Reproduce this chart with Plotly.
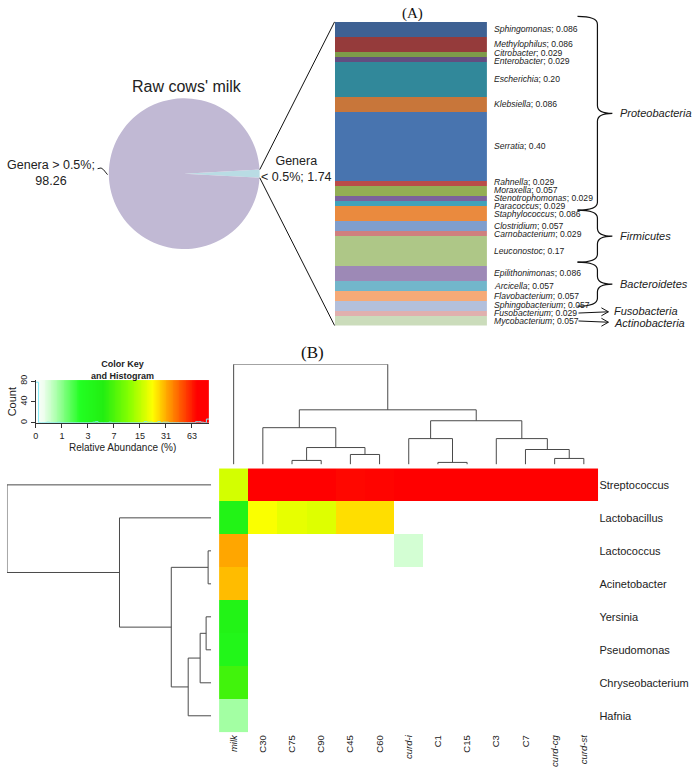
import numpy as np
import plotly.graph_objects as go

W, H = 696, 771

# ---------------- Panel A data ----------------
pie_labels = ["Genera < 0.5%", "Genera > 0.5%"]
pie_values = [1.74, 98.26]
pie_title = "Raw cows' milk"

genera = ["Sphingomonas", "Methylophilus", "Citrobacter", "Enterobacter", "Escherichia",
          "Klebsiella", "Serratia", "Rahnella", "Moraxella", "Stenotrophomonas", "Paracoccus",
          "Staphylococcus", "Clostridium", "Carnobacterium", "Leuconostoc",
          "Epilithonimonas", "Arcicella", "Flavobacterium", "Sphingobacterium",
          "Fusobacterium", "Mycobacterium"]
genus_values = [0.086, 0.086, 0.029, 0.029, 0.20, 0.086, 0.40, 0.029, 0.057, 0.029, 0.029,
                0.086, 0.057, 0.029, 0.17,
                0.086, 0.057, 0.057, 0.057,
                0.029, 0.057]
genus_phylum = (["Proteobacteria"] * 11 + ["Firmicutes"] * 4 + ["Bacteroidetes"] * 4
                + ["Fusobacteria", "Actinobacteria"])

# ---------------- Panel B data ----------------
samples = ["milk", "C30", "C75", "C90", "C45", "C60", "curd-i", "C1", "C15", "C3", "C7",
           "curd-cg", "curd-st"]
italic_samples = ["milk", "curd-i", "curd-cg", "curd-st"]
taxa = ["Streptococcus", "Lactobacillus", "Lactococcus", "Acinetobacter", "Yersinia",
        "Pseudomonas", "Chryseobacterium", "Hafnia"]
abundance = [
    [17, 78, 80, 81, 70, 71, 96, 97, 97, 97, 97, 97, 97],
    [4, 21, 19, 18, 25, 25, 0, 0, 0, 0, 0, 0, 0],
    [32, 0, 0, 0, 0, 0, 0.41, 0, 0, 0, 0, 0, 0],
    [29, 0, 0, 0, 0, 0, 0, 0, 0, 0, 0, 0, 0],
    [4, 0, 0, 0, 0, 0, 0, 0, 0, 0, 0, 0, 0],
    [3.6, 0, 0, 0, 0, 0, 0, 0, 0, 0, 0, 0, 0],
    [6.5, 0, 0, 0, 0, 0, 0, 0, 0, 0, 0, 0, 0],
    [0.8, 0, 0, 0, 0, 0, 0, 0, 0, 0, 0, 0, 0],
]
key_ticks = [0, 1, 3, 7, 15, 31, 63]
count_ticks = [0, 40, 80]
key_max_abundance = 100

# dendrograms: (left, right, merge height)
col_tree = ("milk",
            (("C30", (("C75", "C90", 4), ("C45", "C60", 10), 17), 37),
             (("curd-i", ("C1", "C15", 2), 26),
              ("C3", ("C7", ("curd-cg", "curd-st", 6), 15), 26), 44), 55), 101)
row_tree = ("Streptococcus",
            ("Lactobacillus",
             (("Lactococcus", "Acinetobacter", 3),
              ((("Yersinia", "Pseudomonas", 5), "Chryseobacterium", 11), "Hafnia", 23), 40), 92), 205)

# ---------------- styles ----------------
pie_colors = ["#b9dce4", "#c1b9d4"]
genus_colors = ["#3e6193", "#953b3b", "#7e9b49", "#634d80", "#31889a", "#c8763a", "#4874af",
                "#b94c48", "#93ae54", "#7b629c", "#41a2ba", "#ea8a3e", "#7f9ecd", "#cf807e",
                "#aec787", "#9d89b6", "#72b6cb", "#f6aa77", "#b3c0dc", "#e0b0ae", "#cbdcbb"]
SANS = "Liberation Sans, Arial, sans-serif"
SERIF = "Liberation Serif, Times New Roman, serif"
TXT = "#222222"
DCOL = "#4a4a4a"

# geometry (pixels)
PIE_CX, PIE_CY, PIE_R = 182, 170, 76
BAR_L, BAR_R, BAR_T, BAR_B = 333, 486, 17, 323
HM_L, HM_R, HM_T, HM_B = 217, 598, 467, 733
CD_T, CD_B = 362, 463
RD_L, RD_R = 4, 209
KEY_L, KEY_R, KEY_T, KEY_B = 33, 207, 378, 421


def PX(x):
    return x / W


def PY(y):
    return 1 - y / H


def dx(a, b):
    return [a / W, b / W]


def dy(top, bottom):
    return [1 - bottom / H, 1 - top / H]


def note(x, y, text, size, xanchor="center", family=SANS, color=TXT, **kw):
    return dict(x=PX(x), y=PY(y), xref="paper", yref="paper", text=text, showarrow=False,
                xanchor=xanchor, yanchor="middle", font=dict(family=family, size=size, color=color),
                **kw)


fig = go.Figure()

# ---------------- pie ----------------
small_frac = pie_values[0] / sum(pie_values)
rot = 90 - small_frac * 360 / 2
fig.add_trace(go.Pie(values=pie_values, labels=pie_labels, sort=False, direction="clockwise",
                     rotation=rot, textinfo="none", marker=dict(colors=pie_colors, line=dict(width=0)),
                     domain=dict(x=dx(PIE_CX - PIE_R, PIE_CX + PIE_R), y=dy(PIE_CY - PIE_R, PIE_CY + PIE_R)),
                     showlegend=False, hoverinfo="label+value"))

# ---------------- stacked bar ----------------
total = sum(genus_values)
for g, v, c in zip(genera, genus_values, genus_colors):
    fig.add_trace(go.Bar(x=[0], y=[v], name=g, marker=dict(color=c, line=dict(width=0)),
                         width=1, showlegend=False, xaxis="x", yaxis="y"))

px_per_unit = (BAR_B - BAR_T) / total
centers = []
acc = 0
for v in genus_values:
    centers.append(BAR_T + (acc + v / 2) * px_per_unit)
    acc += v


def spread(cs, gap):
    groups = [[c] for c in cs]
    changed = True
    while changed:
        changed = False
        new = [groups[0]]
        for gr in groups[1:]:
            prev = new[-1]
            ptop = np.mean(prev) - (len(prev) - 1) * gap / 2
            pbot = ptop + (len(prev) - 1) * gap
            gtop = np.mean(gr) - (len(gr) - 1) * gap / 2
            if gtop < pbot + gap - 1e-9:
                new[-1] = prev + gr
                changed = True
            else:
                new.append(gr)
        groups = new
    out = []
    for gr in groups:
        top = np.mean(gr) - (len(gr) - 1) * gap / 2
        out += [top + i * gap for i in range(len(gr))]
    return out


label_y = spread(centers, 8.0)


def fmt(v):
    return f"{v:.2f}" if v >= 0.1 else f"{v:.3f}"


annotations = []
for g, v, ly in zip(genera, genus_values, label_y):
    annotations.append(note(BAR_R + 5, ly, f"<i>{g}</i>; {fmt(v)}", 8.6, xanchor="left"))

shapes = []
# lines pie -> bar
a0 = np.radians(rot)
a1 = np.radians(rot + small_frac * 360)
for ang, by in ((a0, BAR_T), (a1, BAR_B)):
    sx = PIE_CX + PIE_R * np.sin(ang)
    sy = PIE_CY - PIE_R * np.cos(ang)
    shapes.append(dict(type="line", xref="paper", yref="paper", x0=PX(sx), y0=PY(sy),
                       x1=PX(BAR_L), y1=PY(by), line=dict(color="#111", width=1)))


def path_px(cmds):
    s = ""
    for c in cmds:
        if isinstance(c, str):
            s += c + " "
        else:
            s += f"{PX(c[0]):.5f},{PY(c[1]):.5f} "
    return s.strip()


# phylum groups
phyla = []
for p in genus_phylum:
    if p not in phyla:
        phyla.append(p)
groups = {p: [i for i, q in enumerate(genus_phylum) if q == p] for p in phyla}
multi = [p for p in phyla if len(groups[p]) > 1]
single = [p for p in phyla if len(groups[p]) == 1]
SPX, DEPTH, TIP = 597, 20, 15
bounds = []
for k, p in enumerate(multi):
    idx = groups[p]
    top = label_y[idx[0]] - 13 if k == 0 else bounds[-1][1]
    if k < len(multi) - 1:
        nxt = groups[multi[k + 1]][0]
        bot = (label_y[idx[-1]] + label_y[nxt]) / 2
    else:
        bot = label_y[idx[-1]] + 1
    bounds.append((top, bot))
    ym = (top + bot) / 2
    cmds = ["M", (SPX - DEPTH, top), "Q", (SPX, top), (SPX, top + 8), "L", (SPX, ym - 8),
            "Q", (SPX, ym), (SPX + TIP, ym), "Q", (SPX, ym), (SPX, ym + 8), "L", (SPX, bot - 8),
            "Q", (SPX, bot), (SPX - DEPTH, bot)]
    shapes.append(dict(type="path", xref="paper", yref="paper", path=path_px(cmds),
                       line=dict(color="#111", width=1.2)))
    annotations.append(note(SPX + TIP + 6, ym, f"<i>{p}</i>", 11, xanchor="left"))

single_y = spread([label_y[groups[p][0]] for p in single], 13)
for p, py in zip(single, single_y):
    gy = label_y[groups[p][0]]
    x0, x1 = 578, 608
    ey = (gy + py) / 2
    shapes.append(dict(type="path", xref="paper", yref="paper",
                       path=path_px(["M", (x0, gy), "L", (x1, ey),
                                     "M", (x1 - 7, ey - 4), "L", (x1, ey), "L", (x1 - 7, ey + 4)]),
                       line=dict(color="#111", width=1)))
    annotations.append(note(x1 + 4, py, f"<i>{p}</i>", 11, xanchor="left"))

# pie texts
annotations.append(note(185, 82, pie_title, 16))
big_lab = pie_labels[1].replace("<", "&lt;").replace(">", "&gt;")
small_lab = pie_labels[0].replace("<", "&lt;").replace(">", "&gt;")
annotations.append(note(48, 169, f"{big_lab};<br>{pie_values[1]:.2f}", 12.5, align="center"))
sl = small_lab.split(" ", 1)
annotations.append(note(295, 165, f"{sl[0]}<br>{sl[1]}; {pie_values[0]:.2f}", 12.5, align="center"))
shapes.append(dict(type="path", xref="paper", yref="paper",
                   path=path_px(["M", (95, 165), "Q", (99, 163), (101, 166), "L", (105, 171)]),
                   line=dict(color="#222", width=1)))

annotations.append(note(411, 9, "(A)", 15, family=SERIF, color="#111"))
annotations.append(note(311, 350, "(B)", 17, family=SERIF, color="#111"))

# ---------------- heatmap ----------------
zmax = np.log2(key_max_abundance + 1)
Z = np.log2(np.array(abundance, dtype=float) + 1)
cs_z = [0, 0.3, 0.8, 1.7, 2.6, 3.6, 4.5, 5.05, 5.6, 6.2, zmax]
cs_c = ["#ffffff", "#eefeee", "#aaffaa", "#22ff22", "#22ee11", "#88ff00", "#ffff00",
        "#ffa500", "#ff5500", "#ff0000", "#ff0000"]
colorscale = [[z / zmax, c] for z, c in zip(cs_z, cs_c)]

fig.add_trace(go.Heatmap(z=Z, x=list(range(len(samples))), y=list(range(len(taxa))),
                         colorscale=colorscale, zmin=0, zmax=zmax, showscale=False,
                         xaxis="x2", yaxis="y2", xgap=0, ygap=0))


def dendro(tree, order):
    ps, hs = [], []

    def rec(node):
        if isinstance(node, str):
            return order.index(node), 0.0
        l, r, h = node
        pl, hl = rec(l)
        pr, hr = rec(r)
        ps.extend([pl, pl, pr, pr, None])
        hs.extend([hl, h, h, hr, None])
        return (pl + pr) / 2, h

    rec(tree)
    return ps, hs


cp, ch = dendro(col_tree, samples)
fig.add_trace(go.Scatter(x=cp, y=ch, mode="lines", line=dict(color=DCOL, width=1),
                         xaxis="x3", yaxis="y3", showlegend=False, hoverinfo="skip",
                         cliponaxis=False))
rp, rh = dendro(row_tree, taxa)
fig.add_trace(go.Scatter(x=rh, y=rp, mode="lines", line=dict(color=DCOL, width=1),
                         xaxis="x4", yaxis="y4", showlegend=False, hoverinfo="skip",
                         cliponaxis=False))

# ---------------- color key ----------------
edges = np.linspace(0, zmax, 65)
counts, _ = np.histogram(Z.flatten(), bins=edges)
ymax = counts.max() / 0.95
grad_edges = np.linspace(0, zmax, 201)
grad_mid = (grad_edges[:-1] + grad_edges[1:]) / 2
fig.add_trace(go.Heatmap(z=[grad_mid], x=grad_edges, y=[0, ymax], colorscale=colorscale,
                         zmin=0, zmax=zmax, showscale=False, xaxis="x5", yaxis="y5",
                         hoverinfo="skip"))
fig.add_trace(go.Scatter(x=list(edges), y=list(counts) + [counts[-1]], mode="lines",
                         line=dict(color="#7fe9f5", width=1, shape="hv"), xaxis="x5", yaxis="y5",
                         showlegend=False, hoverinfo="skip", cliponaxis=False))

annotations.append(note((KEY_L + KEY_R) / 2, 368, "<b>Color Key</b><br><b>and Histogram</b>", 9))
annotations.append(note((KEY_L + KEY_R) / 2, 446, "Relative Abundance (%)", 10))
annotations.append(note(9, (KEY_T + KEY_B) / 2, "Count", 11, textangle=-90))

hidden = dict(visible=False, showgrid=False, zeroline=False, fixedrange=True)

fig.update_layout(
    width=W, height=H, margin=dict(l=0, r=0, t=0, b=0),
    paper_bgcolor="white", plot_bgcolor="white",
    barmode="stack", bargap=0, showlegend=False,
    xaxis=dict(domain=dx(BAR_L, BAR_R), range=[-0.5, 0.5], anchor="y", **hidden),
    yaxis=dict(domain=dy(BAR_T, BAR_B), range=[total, 0], anchor="x", **hidden),
    xaxis2=dict(domain=dx(HM_L, HM_R), range=[-0.5, len(samples) - 0.5], anchor="y2",
                tickmode="array", tickvals=list(range(len(samples))),
                ticktext=[f"<i>{s}</i>" if s in italic_samples else s for s in samples],
                tickangle=-90, ticks="", showgrid=False, zeroline=False, showline=False,
                tickfont=dict(family=SANS, size=9.5, color=TXT), fixedrange=True),
    yaxis2=dict(domain=dy(HM_T, HM_B), range=[len(taxa) - 0.5, -0.5], anchor="x2", side="right",
                tickmode="array", tickvals=list(range(len(taxa))), ticktext=taxa, ticks="",
                showgrid=False, zeroline=False, showline=False,
                tickfont=dict(family=SANS, size=11, color=TXT), fixedrange=True),
    xaxis3=dict(domain=dx(HM_L, HM_R), range=[-0.5, len(samples) - 0.5], anchor="y3", **hidden),
    yaxis3=dict(domain=dy(CD_T, CD_B), range=[0, col_tree[2]], anchor="x3", **hidden),
    xaxis4=dict(domain=dx(RD_L, RD_R), range=[row_tree[2], 0], anchor="y4", **hidden),
    yaxis4=dict(domain=dy(HM_T, HM_B), range=[len(taxa) - 0.5, -0.5], anchor="x4", **hidden),
    xaxis5=dict(domain=dx(KEY_L, KEY_R), range=[0, zmax], anchor="y5", tickmode="array",
                tickvals=[np.log2(t + 1) for t in key_ticks], ticktext=[str(t) for t in key_ticks],
                ticks="outside", ticklen=4, tickcolor="#333", showline=True, linecolor="#333",
                linewidth=1, showgrid=False, zeroline=False,
                tickfont=dict(family=SANS, size=9, color=TXT), fixedrange=True),
    yaxis5=dict(domain=dy(KEY_T, KEY_B), range=[0, ymax], anchor="x5", tickmode="array",
                tickvals=count_ticks, ticktext=[str(t) for t in count_ticks], tickangle=-90,
                ticks="outside", ticklen=4, tickcolor="#333", showline=True, linecolor="#333",
                linewidth=1, showgrid=False, zeroline=False,
                tickfont=dict(family=SANS, size=9, color=TXT), fixedrange=True),
    annotations=annotations, shapes=shapes,
)

fig.write_html("out.html", config={"displayModeBar": False},
               post_script="document.body.style.margin='0px';")
